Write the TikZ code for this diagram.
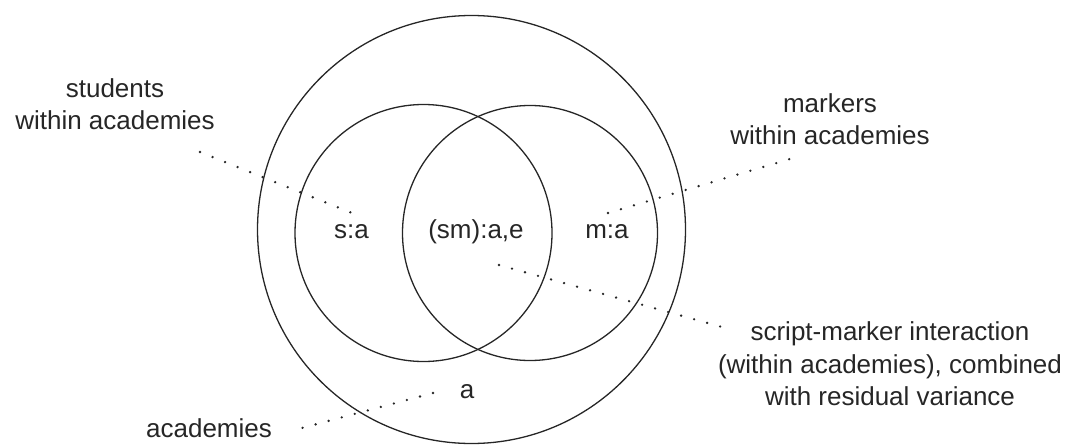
\documentclass[tikz,border=0pt]{standalone}
\usepackage{fontspec}
\setmainfont{Liberation Sans}
\begin{document}
\begin{tikzpicture}[x=1pt,y=-1pt,
  ring/.style={draw=black!85, line width=1.3pt, circle, inner sep=0pt, outer sep=0pt},
  lbl/.style={text=black!85, font=\fontsize{26}{32.5}\selectfont, inner sep=0pt, align=center},
  leader/.style={draw=black!85, line width=2.6pt, line cap=round, dash pattern=on 0pt off 13.5pt}]
\useasboundingbox (0,0) rectangle (1075,444);
% circles
\node[ring, minimum size=428pt] (outer) at (471.5,229.5) {};
\node[ring, minimum size=257pt] (lc) at (423.5,233) {};
\node[ring, minimum size=255pt] (rc) at (530,233) {};
% inner labels
\node[lbl] (sa) at (351.5,232) {s:a};
\node[lbl] (sma) at (476,232) {(sm):a,e};
\node[lbl] (ma) at (607,232) {m:a};
\node[lbl] (a) at (467,392) {a};
% outer labels
\node[lbl] (stud) at (115,104) {students\\within academies};
\node[lbl] (mark) at (830,119) {markers\\within academies};
\node[lbl] (inter) at (890,364) {script-marker interaction\\(within academies), combined\\with residual variance};
\node[lbl] (acad) at (209,428) {academies};
% leader end points
\coordinate (studE) at (200,152);
\coordinate (saE) at (352,213);
\coordinate (markE) at (790,159);
\coordinate (maE) at (608,213);
\coordinate (smaE) at (499,265);
\coordinate (interE) at (722,327);
\coordinate (aE) at (433,393);
\coordinate (acadE) at (302,428);
% leaders
\draw[leader] (studE) -- (saE);
\draw[leader] (maE) -- (markE);
\draw[leader] (smaE) -- (interE);
\draw[leader] (aE) -- (acadE);
\end{tikzpicture}
\end{document}
